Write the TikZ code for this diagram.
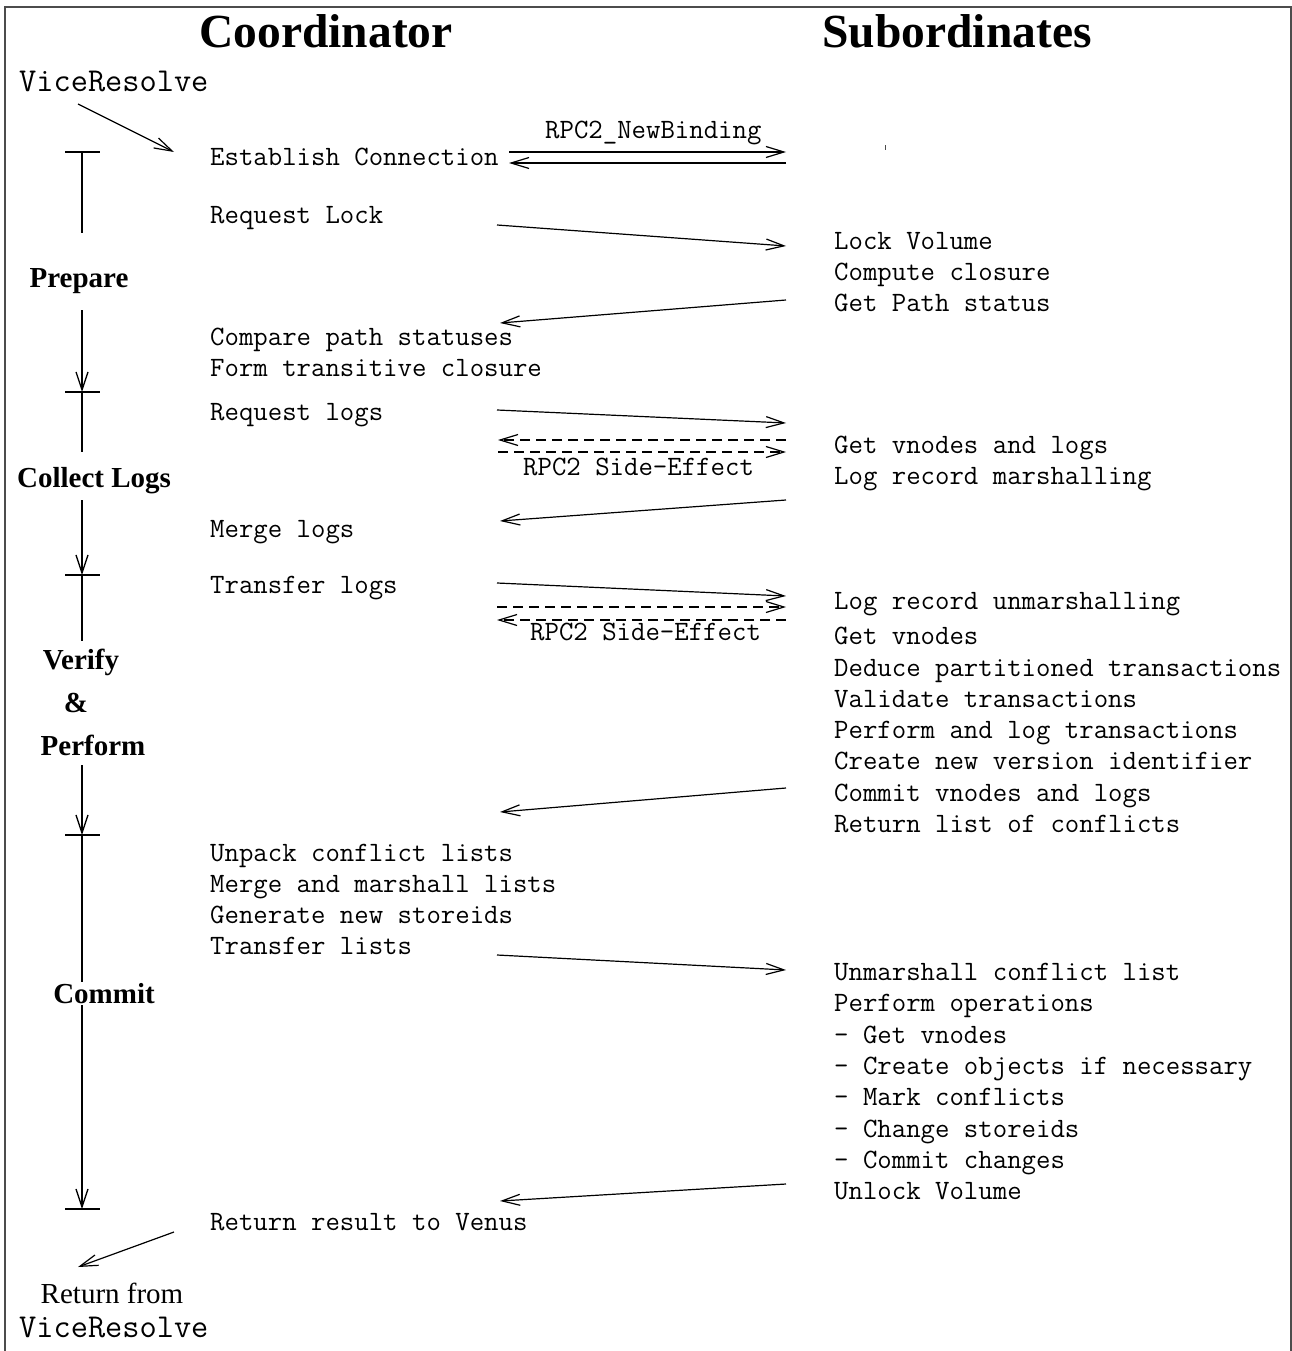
\documentclass[tikz,border=0pt]{standalone}
\usepackage{fontspec}
\setmainfont{Liberation Serif}
\usetikzlibrary{arrows.meta}
\begin{document}
\begin{tikzpicture}[x=1pt,y=-1pt,
  msg/.style={font=\fontsize{28}{32}\selectfont\ttfamily, anchor=base west, inner sep=0pt},
  call/.style={font=\fontsize{33.4}{38}\selectfont\ttfamily, anchor=base west, inner sep=0pt},
  title/.style={font=\fontsize{47.5}{56}\selectfont\bfseries, anchor=base, inner sep=0pt},
  phase/.style={font=\fontsize{29}{34}\selectfont\bfseries, anchor=base, inner sep=0pt},
  plain/.style={font=\fontsize{29}{34}\selectfont, anchor=base, inner sep=0pt},
  flow/.style={line width=1.2pt, -{Straight Barb[length=18pt,width=11pt]}},
  side/.style={flow, dash pattern=on 10pt off 6pt},
  rail/.style={line width=1.3pt},
  railarrow/.style={rail, -{Straight Barb[length=18pt,width=12pt]}},
  tick/.style={line width=2.8pt},
  frame/.style={line width=2pt, draw=black!70}
]
\useasboundingbox (0,0) rectangle (1292,1351);

% open frame
\draw[frame] (5,1351) -- (5,7) -- (1291,7) -- (1291,1351);
\fill[black!70] (884.5,145) rectangle (886,150);

% column headings
\node[title] (coord) at (326,48) {Coordinator};
\node[title] (subs) at (957,48) {Subordinates};

% entry and exit
\node[call] (vrin) at (19,92) {ViceResolve};
\node[plain] (retfrom) at (112,1303) {Return from};
\node[call] (vrout) at (19,1337) {ViceResolve};

% coordinator steps
\node[msg] (ec) at (210,166) {Establish Connection};
\node[msg] (rl) at (210,223) {Request Lock};
\node[msg] (cps) at (210,345) {Compare path statuses};
\node[msg] (ftc) at (210,376) {Form transitive closure};
\node[msg] (rlog) at (210,420) {Request logs};
\node[msg] (mlog) at (210,537) {Merge logs};
\node[msg] (tlog) at (210,593) {Transfer logs};
\node[msg] (ucl) at (210,861) {Unpack conflict lists};
\node[msg] (mml) at (210,892) {Merge and marshall lists};
\node[msg] (gns) at (210,923) {Generate new storeids};
\node[msg] (tl) at (210,954) {Transfer lists};
\node[msg] (rrv) at (210,1230) {Return result to Venus};

% subordinate steps
\node[msg] (lv) at (834,249) {Lock Volume};
\node[msg] (cc) at (834,280) {Compute closure};
\node[msg] (gps) at (834,311) {Get Path status};
\node[msg] (gvl) at (834,453) {Get vnodes and logs};
\node[msg] (lrm) at (834,484) {Log record marshalling};
\node[msg] (lru) at (834,609) {Log record unmarshalling};
\node[msg] (gv) at (834,644) {Get vnodes};
\node[msg] (dpt) at (834,676) {Deduce partitioned transactions};
\node[msg] (vt) at (834,707) {Validate transactions};
\node[msg] (plt) at (834,738) {Perform and log transactions};
\node[msg] (cnv) at (834,769) {Create new version identifier};
\node[msg] (cvl) at (834,801) {Commit vnodes and logs};
\node[msg] (rlc) at (834,832) {Return list of conflicts};
\node[msg] (ucf) at (834,980) {Unmarshall conflict list};
\node[msg] (po) at (834,1011) {Perform operations};
\node[msg] (po1) at (834,1043) {- Get vnodes};
\node[msg] (po2) at (834,1074) {- Create objects if necessary};
\node[msg] (po3) at (834,1105) {- Mark conflicts};
\node[msg] (po4) at (834,1137) {- Change storeids};
\node[msg] (po5) at (834,1168) {- Commit changes};
\node[msg] (ulv) at (834,1199) {Unlock Volume};

% message labels
\node[msg] (nbl) at (545,139) {RPC2\_NewBinding};
\node[msg] (se1) at (523,475) {RPC2 Side-Effect};
\node[msg] (se2) at (530,640) {RPC2 Side-Effect};

% phase names
\node[phase] (ph1) at (79,287) {Prepare};
\node[phase] (ph2) at (94,487) {Collect Logs};
\node[phase] (ph3a) at (81,669) {Verify};
\node[phase] (ph3b) at (76,712) {\&};
\node[phase] (ph3c) at (93,755) {Perform};
\node[phase] (ph4) at (104,1003) {Commit};

% arrow end points
\coordinate (a1) at (78,104);   \coordinate (a2) at (174,152);
\coordinate (b1) at (509,152);  \coordinate (b2) at (786,152);
\coordinate (b3) at (786,163);  \coordinate (b4) at (509,163);
\coordinate (c1) at (497,225);  \coordinate (c2) at (786,246);
\coordinate (d1) at (786,300);  \coordinate (d2) at (500,323);
\coordinate (e1) at (497,410);  \coordinate (e2) at (786,423);
\coordinate (e3) at (786,440);  \coordinate (e4) at (498,440);
\coordinate (e5) at (498,452);  \coordinate (e6) at (786,452);
\coordinate (f1) at (786,500);  \coordinate (f2) at (500,521);
\coordinate (g1) at (497,583);  \coordinate (g2) at (786,596);
\coordinate (g3) at (497,607);  \coordinate (g4) at (786,607);
\coordinate (g5) at (786,620);  \coordinate (g6) at (497,620);
\coordinate (h1) at (786,788);  \coordinate (h2) at (500,812);
\coordinate (i1) at (497,955);  \coordinate (i2) at (786,970);
\coordinate (j1) at (786,1184); \coordinate (j2) at (500,1201);
\coordinate (k1) at (174,1232); \coordinate (k2) at (78,1267);

% messages between coordinator and subordinates
\draw[flow] (a1) -- (a2);
\draw[flow] (b1) -- (b2);
\draw[flow] (b3) -- (b4);
\draw[flow] (c1) -- (c2);
\draw[flow] (d1) -- (d2);
\draw[flow] (e1) -- (e2);
\draw[side] (e3) -- (e4);
\draw[side] (e5) -- (e6);
\draw[flow] (f1) -- (f2);
\draw[flow] (g1) -- (g2);
\draw[side] (g3) -- (g4);
\draw[side] (g5) -- (g6);
\draw[flow] (h1) -- (h2);
\draw[flow] (i1) -- (i2);
\draw[flow] (j1) -- (j2);
\draw[flow] (k1) -- (k2);

% phase time line
\coordinate (t0) at (82,152);
\coordinate (t1) at (82,392);
\coordinate (t2) at (82,575);
\coordinate (t3) at (82,835);
\coordinate (t4) at (82,1209);
\foreach \t in {t0,t1,t2,t3,t4}
  \draw[tick] ([xshift=-17pt]\t) -- ([xshift=18pt]\t);
\draw[rail] (t0) -- (82,233);
\draw[railarrow] (82,310) -- (t1);
\draw[rail] (t1) -- (82,452);
\draw[railarrow] (82,500) -- (t2);
\draw[rail] (t2) -- (82,641);
\draw[railarrow] (82,765) -- (t3);
\draw[rail] (t3) -- (82,982);
\draw[railarrow] (82,1005) -- (t4);
\end{tikzpicture}
\end{document}
